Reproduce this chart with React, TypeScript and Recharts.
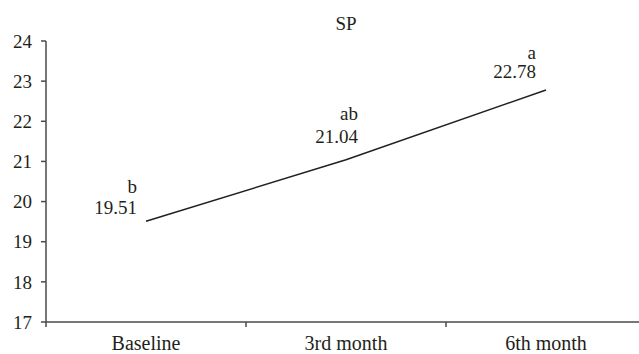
import { LineChart, Line, XAxis, YAxis, LabelList } from 'recharts'

const categories = ['Baseline', '3rd month', '6th month']
const spValues = [19.51, 21.04, 22.78]
const groupLetters = ['b', 'ab', 'a']
const yTicks = [17, 18, 19, 20, 21, 22, 23, 24]

// per-point nudges for the annotation (pixels), same order as categories
const labelDx = [-9, 12, -10]
const valueRise = [14, 23, 18]
const letterRise = [35, 46, 37]

// each category sits in the middle of its band; band edges carry the tick marks
const data = categories.map((period, i) => ({
  period,
  pos: i + 0.5,
  sp: spValues[i],
}))
const xTicks: number[] = []
for (let i = 0; i <= categories.length; i++) {
  xTicks.push(i)
  if (i < categories.length) xTicks.push(i + 0.5)
}

const FONT = '"Liberation Serif", "Times New Roman", serif'
const INK = '#231f20'
const AXIS = '#4a4a4a'

function PointLabel(props: any) {
  const { x, y, index, value } = props
  const dx = labelDx[index]
  return (
    <g fontFamily={FONT} fontSize={19} fill={INK} textAnchor="end">
      <text x={x + dx} y={y - letterRise[index]} dominantBaseline="central">
        {groupLetters[index]}
      </text>
      <text x={x + dx} y={y - valueRise[index]} dominantBaseline="central">
        {value.toFixed(2)}
      </text>
    </g>
  )
}

function BandTick(props: any) {
  const { x, payload } = props
  const axisY = 322
  const v = payload.value
  if (Number.isInteger(v)) {
    return <line x1={x} x2={x} y1={axisY} y2={axisY + 5} stroke={AXIS} strokeWidth={1.5} />
  }
  return (
    <text
      x={x}
      y={axisY + 28}
      textAnchor="middle"
      fontFamily={FONT}
      fontSize={20}
      fill={INK}
    >
      {categories[Math.floor(v)]}
    </text>
  )
}

export default function App() {
  return (
    <div
      style={{
        position: 'absolute',
        left: 0,
        top: 0,
        width: 639,
        height: 354,
        overflow: 'hidden',
        background: '#fff',
      }}
    >
      <div
        style={{
          position: 'absolute',
          left: 346,
          top: 23,
          transform: 'translate(-50%, -50%)',
          fontFamily: FONT,
          fontSize: 19,
          color: INK,
          lineHeight: 1,
        }}
      >
        SP
      </div>
      <LineChart
        width={660}
        height={354}
        data={data}
        margin={{ top: 41, right: 14, bottom: 0, left: 0 }}
      >
        <XAxis
          dataKey="pos"
          type="number"
          domain={[0, categories.length]}
          ticks={xTicks}
          interval={0}
          height={32}
          tickLine={false}
          tickSize={0}
          tickMargin={0}
          stroke={AXIS}
          strokeWidth={1.5}
          tick={<BandTick />}
        />
        <YAxis
          domain={[17, 24]}
          ticks={yTicks}
          width={46}
          tickSize={5}
          tickMargin={9}
          stroke={AXIS}
          strokeWidth={1.5}
          tick={{ fontFamily: FONT, fontSize: 19, fill: INK }}
        />
        <Line
          dataKey="sp"
          stroke={INK}
          strokeWidth={1.5}
          dot={false}
          type="linear"
          isAnimationActive={false}
        >
          <LabelList dataKey="sp" content={PointLabel} />
        </Line>
      </LineChart>
    </div>
  )
}
